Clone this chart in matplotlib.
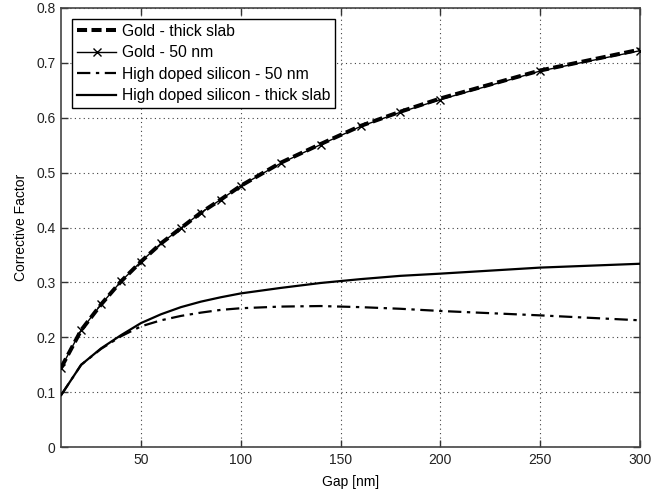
import matplotlib
matplotlib.use("Agg")
import matplotlib.pyplot as plt

gap = [10, 20, 30, 40, 50, 60, 70, 80, 90, 100, 120, 140, 160, 180, 200, 250, 300]
gold_thick = [0.145, 0.213, 0.260, 0.302, 0.338, 0.371, 0.399, 0.427, 0.451, 0.476,
              0.518, 0.552, 0.585, 0.611, 0.635, 0.686, 0.724]
gold_50 = [0.145, 0.213, 0.260, 0.302, 0.338, 0.371, 0.399, 0.427, 0.451, 0.476,
           0.517, 0.551, 0.584, 0.610, 0.633, 0.685, 0.722]
si_50 = [0.095, 0.150, 0.179, 0.202, 0.220, 0.231, 0.239, 0.245, 0.250, 0.253,
         0.256, 0.257, 0.255, 0.252, 0.248, 0.240, 0.231]
si_thick = [0.095, 0.150, 0.180, 0.204, 0.226, 0.242, 0.255, 0.265, 0.273, 0.280,
            0.290, 0.299, 0.306, 0.312, 0.316, 0.327, 0.334]

labels = ["Gold - thick slab", "Gold - 50 nm", "High doped silicon - 50 nm",
          "High doped silicon - thick slab"]
xticks = [50, 100, 150, 200, 250, 300]
yticks = [0, 0.1, 0.2, 0.3, 0.4, 0.5, 0.6, 0.7, 0.8]
ytick_labels = ["0", "0.1", "0.2", "0.3", "0.4", "0.5", "0.6", "0.7", "0.8"]

plt.rcParams['font.family'] = ['Liberation Sans', 'DejaVu Sans']

fig = plt.figure(figsize=(6.51, 4.93), dpi=100)
ax = fig.add_axes([0.094, 0.093, 0.889, 0.891])

ax.plot(gap, gold_thick, color='black', linestyle=(0, (2.5, 1.1)), linewidth=2.9, label=labels[0], zorder=4)
ax.plot(gap, gold_50, color='black', linestyle='-', linewidth=1.0, marker='x', markersize=5.5,
        markeredgewidth=1.0, label=labels[1], zorder=3)
ax.plot(gap, si_50, color='black', linestyle=(0, (6, 2.5, 1.5, 2.5)), linewidth=1.6, label=labels[2], zorder=3)
ax.plot(gap, si_thick, color='black', linestyle='-', linewidth=1.6, label=labels[3], zorder=3)

ax.set_xlim(10, 300)
ax.set_ylim(0, 0.8)
ax.set_xticks(xticks)
ax.set_yticks(yticks)
ax.set_xticklabels([str(t) for t in xticks])
ax.set_yticklabels(ytick_labels)
ax.grid(True, color='black', linestyle=(0, (1, 3)), linewidth=0.8, alpha=0.75)
ax.tick_params(direction='in', top=True, right=True, length=5, width=1, labelsize=10,
               colors='#333333', labelcolor='#222222', pad=4)
for s in ax.spines.values():
    s.set_color('#444444')
    s.set_linewidth(1.2)

ax.set_xlabel("Gap [nm]", fontsize=10, labelpad=6)
ax.set_ylabel("Corrective Factor", fontsize=10, labelpad=6)

leg = ax.legend(loc='upper left', fontsize=11.3, frameon=True, fancybox=False,
                edgecolor='black', framealpha=1, borderpad=0.3, handlelength=2.5,
                handletextpad=0.35, labelspacing=0.42, borderaxespad=0.7)
leg.get_frame().set_linewidth(1.0)

fig.savefig("out.png", dpi=100)
